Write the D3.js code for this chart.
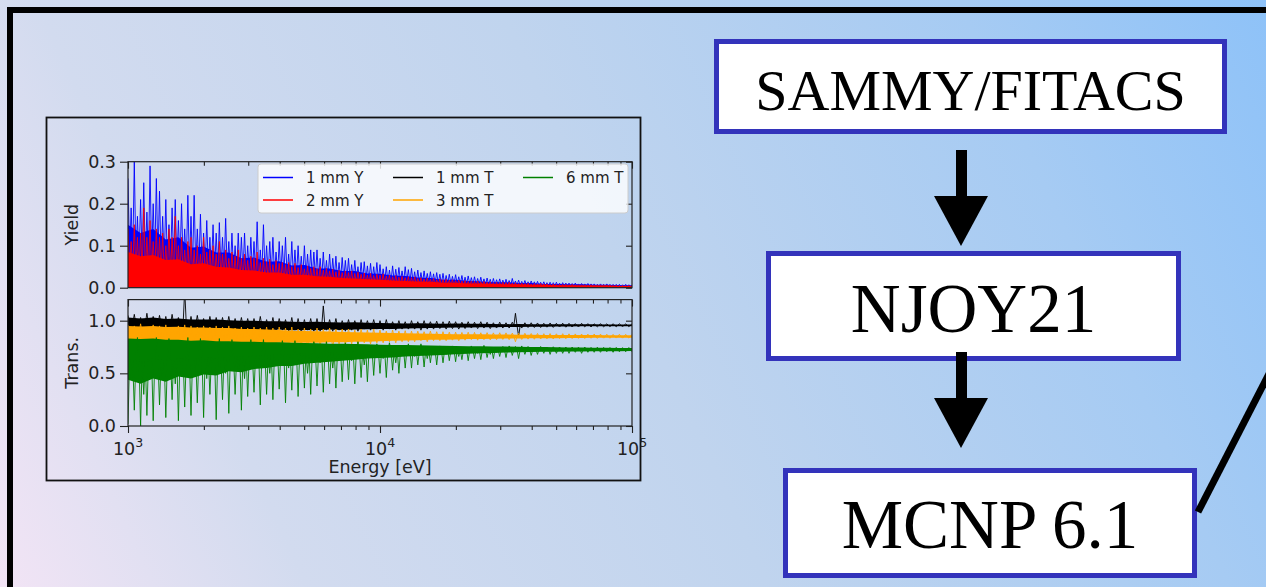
<!DOCTYPE html>
<html>
<head>
<meta charset="utf-8">
<script src="https://cdn.jsdelivr.net/npm/d3@7"></script>
<style>
html, body { margin: 0; padding: 0; overflow: hidden; }
svg { display: block; }
</style>
</head>
<body>
<script>
var width = 1266, height = 587;

// sample grids, log10(E / eV)
var coarseLogE = d3.range(41).map(function(i) { return 3 + i * 0.05; });
var fineLogE = d3.range(161).map(function(i) { return 3 + i * 0.0125; });

var xMajor = [1e3, 1e4, 1e5];
var xMinor = [2e3, 3e3, 4e3, 5e3, 6e3, 7e3, 8e3, 9e3, 2e4, 3e4, 4e4, 5e4, 6e4, 7e4, 8e4, 9e4];
var yieldTicks = [0, 0.1, 0.2, 0.3];
var transTicks = [0, 0.5, 1.0];

// ---- yield, 1 mm : dense core top (coarse) and resonance extremes (fine)
var y1Hi = [0.15,0.13,0.14,0.115,0.12,0.095,0.098,0.084,0.084,0.07,
            0.072,0.062,0.063,0.053,0.054,0.046,0.046,0.04,0.04,0.034,
            0.033,0.029,0.028,0.024,0.023,0.019,0.019,0.016,0.015,0.013,
            0.013,0.011,0.011,0.009,0.009,0.008,0.008,0.007,0.007,0.006,0.006];
var y1Spk = [0.26,0.19,0.30,0.17,0.21,0.25,0.18,0.29,0.2,0.26,
             0.23,0.17,0.21,0.15,0.19,0.21,0.16,0.2,0.14,0.22,
             0.17,0.22,0.14,0.175,0.13,0.16,0.12,0.15,0.13,0.155,
             0.12,0.165,0.11,0.13,0.1,0.13,0.12,0.13,0.1,0.12,
             0.11,0.157,0.09,0.15,0.1,0.11,0.12,0.085,0.11,0.1,
             0.12,0.08,0.11,0.09,0.1,0.075,0.1,0.08,0.09,0.085,
             0.09,0.07,0.085,0.065,0.08,0.07,0.075,0.06,0.072,0.065,
             0.07,0.055,0.065,0.05,0.06,0.062,0.052,0.058,0.05,0.06,
             0.055,0.045,0.05,0.042,0.052,0.044,0.048,0.04,0.05,0.043,
             0.046,0.038,0.042,0.036,0.04,0.034,0.038,0.033,0.036,0.032,
             0.034,0.029,0.032,0.027,0.031,0.026,0.029,0.025,0.028,0.024,
             0.026,0.022,0.025,0.021,0.023,0.02,0.022,0.019,0.021,0.018,
             0.02,0.017,0.022,0.016,0.018,0.015,0.017,0.014,0.016,0.014,
             0.015,0.013,0.014,0.012,0.013,0.012,0.013,0.011,0.012,0.011,
             0.011,0.01,0.011,0.009,0.01,0.009,0.01,0.009,0.009,0.008,
             0.009,0.008,0.009,0.008,0.008,0.008,0.008,0.007,0.008,0.007,
             0.007];

// ---- yield, 2 mm
var y2Hi = [0.085,0.075,0.078,0.066,0.068,0.056,0.058,0.05,0.048,0.042,
            0.041,0.036,0.036,0.031,0.031,0.027,0.026,0.023,0.022,0.02,
            0.019,0.017,0.016,0.015,0.014,0.012,0.012,0.01,0.01,0.009,
            0.008,0.008,0.007,0.007,0.006,0.006,0.005,0.005,0.005,0.004,0.004];
var y2Spk = [0.14,0.11,0.15,0.12,0.13,0.19,0.12,0.16,0.11,0.14,
             0.12,0.13,0.1,0.14,0.12,0.17,0.1,0.12,0.09,0.11,
             0.12,0.09,0.1,0.08,0.12,0.085,0.09,0.1,0.08,0.11,
             0.08,0.09,0.07,0.085,0.075,0.09,0.07,0.08,0.065,0.075,
             0.07,0.085,0.06,0.07,0.062,0.068,0.055,0.065,0.058,0.06,
             0.055,0.06,0.05,0.058,0.048,0.055,0.045,0.052,0.046,0.05,
             0.045,0.05,0.042,0.046,0.04,0.044,0.038,0.042,0.036,0.04,
             0.036,0.04,0.034,0.037,0.032,0.035,0.03,0.034,0.029,0.032,
             0.03,0.033,0.028,0.03,0.026,0.029,0.025,0.027,0.024,0.026,
             0.024,0.026,0.022,0.024,0.021,0.023,0.02,0.022,0.019,0.021,
             0.019,0.02,0.018,0.019,0.017,0.018,0.016,0.017,0.015,0.016,
             0.015,0.016,0.014,0.015,0.013,0.014,0.012,0.013,0.012,0.013,
             0.012,0.013,0.011,0.012,0.01,0.011,0.01,0.011,0.009,0.01,
             0.009,0.01,0.009,0.009,0.008,0.009,0.008,0.008,0.008,0.008,
             0.007,0.008,0.007,0.007,0.007,0.007,0.006,0.007,0.006,0.006,
             0.006,0.006,0.006,0.006,0.005,0.006,0.005,0.005,0.005,0.005,
             0.005];

// ---- transmission, 1 mm
var t1Hi = [1.03,1.02,1.03,1.015,1.02,1.01,1.01,1.01,1.005,1.0,
            1.0,0.995,0.995,0.99,0.988,0.99,0.985,0.982,0.984,0.98,
            0.978,0.975,0.974,0.975,0.972,0.971,0.972,0.97,0.97,0.968,
            0.967,0.968,0.967,0.966,0.966,0.965,0.965,0.965,0.964,0.964,0.964];
var t1Lo = [0.925,0.92,0.925,0.915,0.92,0.915,0.92,0.91,0.915,0.91,
            0.915,0.91,0.915,0.91,0.912,0.91,0.915,0.912,0.915,0.918,
            0.92,0.922,0.925,0.928,0.93,0.932,0.934,0.936,0.937,0.938,
            0.94,0.941,0.942,0.943,0.944,0.945,0.946,0.946,0.947,0.947,0.948];
var t1Spk = [1.05,0.9,1.06,0.92,1.03,0.88,1.07,0.91,1.04,0.89,
             1.05,0.9,1.04,0.92,1.06,0.88,1.03,0.91,1.3,0.9,
             1.04,0.89,1.05,0.91,1.02,0.88,1.04,0.9,1.03,0.89,
             1.03,0.9,1.04,0.89,1.02,0.91,1.03,0.88,1.02,0.9,
             1.02,0.9,1.04,0.91,1.01,0.89,1.03,0.9,1.02,0.91,
             1.01,0.9,1.03,0.91,1.02,0.89,1.01,0.91,1.02,0.9,
             1.02,0.9,1.14,0.91,1.01,0.9,1.02,0.91,1.0,0.9,
             1.01,0.91,1.0,0.9,1.01,0.92,1.0,0.91,1.01,0.92,
             1.0,0.91,1.01,0.92,0.99,0.91,1.0,0.92,0.99,0.92,
             1.0,0.92,0.99,0.91,1.0,0.92,0.99,0.92,0.995,0.925,
             0.99,0.92,0.995,0.925,0.99,0.92,0.985,0.925,0.99,0.93,
             0.985,0.925,0.99,0.93,0.985,0.925,0.98,0.93,0.985,0.93,
             0.98,0.93,0.985,1.07,0.85,0.93,0.98,0.935,0.98,0.935,
             0.978,0.935,0.975,0.938,0.978,0.936,0.975,0.94,0.976,0.938,
             0.975,0.94,0.972,0.94,0.975,0.942,0.972,0.94,0.97,0.942,
             0.972,0.942,0.97,0.944,0.971,0.943,0.97,0.945,0.969,0.944,
             0.97];

// ---- transmission, 3 mm
var t3Hi = [0.95,0.945,0.95,0.94,0.942,0.935,0.935,0.93,0.93,0.922,
            0.92,0.915,0.912,0.905,0.903,0.9,0.897,0.893,0.89,0.887,
            0.885,0.882,0.88,0.878,0.876,0.874,0.872,0.871,0.87,0.869,
            0.868,0.867,0.866,0.865,0.865,0.864,0.863,0.863,0.862,0.862,0.861];
var t3Lo = [0.82,0.81,0.815,0.8,0.805,0.79,0.8,0.79,0.79,0.785,
            0.79,0.785,0.79,0.79,0.79,0.79,0.795,0.795,0.8,0.8,
            0.805,0.81,0.812,0.815,0.818,0.82,0.822,0.825,0.826,0.828,
            0.83,0.831,0.832,0.833,0.834,0.835,0.836,0.837,0.838,0.838,0.839];
var t3Spk = [0.96,0.72,0.95,0.78,0.97,0.7,0.94,0.75,0.96,0.73,
             0.95,0.76,0.96,0.71,0.94,0.77,0.95,0.72,0.96,0.75,
             0.95,0.73,0.94,0.77,0.95,0.72,0.94,0.76,0.95,0.74,
             0.94,0.75,0.95,0.72,0.93,0.77,0.94,0.74,0.93,0.76,
             0.94,0.74,0.93,0.77,0.94,0.73,0.93,0.76,0.94,0.75,
             0.93,0.76,0.94,0.74,0.92,0.77,0.93,0.75,0.92,0.77,
             0.93,0.76,0.92,0.78,0.93,0.75,0.92,0.78,0.92,0.77,
             0.92,0.78,0.91,0.77,0.92,0.79,0.91,0.78,0.92,0.79,
             0.91,0.79,0.9,0.8,0.91,0.79,0.9,0.8,0.905,0.8,
             0.9,0.8,0.9,0.81,0.895,0.8,0.9,0.81,0.895,0.81,
             0.895,0.81,0.89,0.815,0.89,0.81,0.888,0.815,0.89,0.82,
             0.888,0.815,0.885,0.82,0.886,0.818,0.884,0.82,0.885,0.822,
             0.884,0.82,0.882,0.8,0.88,0.822,0.88,0.825,0.878,0.824,
             0.878,0.826,0.876,0.828,0.877,0.826,0.875,0.83,0.876,0.829,
             0.875,0.83,0.874,0.832,0.873,0.831,0.872,0.833,0.873,0.832,
             0.872,0.834,0.871,0.833,0.87,0.835,0.871,0.834,0.87,0.836,
             0.87];

// ---- transmission, 6 mm
var t6Hi = [0.83,0.825,0.83,0.82,0.82,0.81,0.815,0.805,0.805,0.8,
            0.8,0.795,0.795,0.79,0.788,0.785,0.782,0.78,0.778,0.775,
            0.772,0.77,0.768,0.766,0.764,0.762,0.76,0.758,0.756,0.755,
            0.754,0.752,0.75,0.749,0.748,0.746,0.745,0.744,0.742,0.741,0.74];
var t6Lo = [0.44,0.4,0.45,0.42,0.47,0.45,0.49,0.48,0.52,0.51,
            0.54,0.55,0.57,0.57,0.59,0.6,0.61,0.62,0.63,0.64,
            0.645,0.65,0.66,0.665,0.67,0.675,0.68,0.685,0.69,0.694,
            0.697,0.7,0.702,0.704,0.706,0.707,0.708,0.709,0.71,0.71,0.712];
var t6Spk = [0.02,0.45,0.15,0.84,0.0,0.3,0.1,0.6,0.05,0.84,
             0.2,0.5,0.08,0.83,0.25,0.4,0.05,0.65,0.18,0.84,
             0.1,0.55,0.22,0.83,0.08,0.45,0.3,0.6,0.06,0.83,
             0.25,0.5,0.12,0.82,0.3,0.55,0.15,0.45,0.28,0.82,
             0.32,0.6,0.2,0.82,0.3,0.5,0.25,0.62,0.35,0.81,
             0.22,0.55,0.34,0.81,0.28,0.6,0.36,0.5,0.3,0.8,
             0.38,0.6,0.32,0.8,0.4,0.55,0.36,0.64,0.42,0.79,
             0.44,0.62,0.4,0.8,0.46,0.58,0.42,0.66,0.48,0.78,
             0.5,0.64,0.46,0.79,0.53,0.6,0.5,0.67,0.55,0.78,
             0.55,0.66,0.58,0.78,0.56,0.64,0.6,0.68,0.58,0.76,
             0.6,0.68,0.62,0.76,0.61,0.66,0.63,0.7,0.62,0.76,
             0.64,0.69,0.63,0.765,0.65,0.68,0.64,0.7,0.66,0.755,
             0.65,0.76,0.67,0.755,0.64,0.76,0.68,0.755,0.67,0.75,
             0.68,0.755,0.69,0.75,0.68,0.752,0.69,0.75,0.69,0.75,
             0.69,0.75,0.7,0.748,0.69,0.75,0.7,0.746,0.7,0.748,
             0.7,0.746,0.705,0.745,0.7,0.746,0.705,0.744,0.705,0.745,
             0.705];

var legendLabels = ["1 mm Y", "2 mm Y", "1 mm T", "3 mm T", "6 mm T"];
var flowLabels = ["SAMMY/FITACS", "NJOY21", "MCNP 6.1"];

var yieldSeries = [
	{name: legendLabels[0], color: "#0000ff", hi: y1Hi, lo: null, spk: y1Spk},
	{name: legendLabels[1], color: "#ff0000", hi: y2Hi, lo: null, spk: y2Spk}
];
var transSeries = [
	{name: legendLabels[2], color: "#000000", hi: t1Hi, lo: t1Lo, spk: t1Spk},
	{name: legendLabels[3], color: "#ffa500", hi: t3Hi, lo: t3Lo, spk: t3Spk},
	{name: legendLabels[4], color: "#008000", hi: t6Hi, lo: t6Lo, spk: t6Spk}
];

var svg = d3.select("body").append("svg")
	.attr("width", width)
	.attr("height", height);
var defs = svg.append("defs");

// slide background
var grad = defs.append("linearGradient").attr("id", "bg")
	.attr("gradientUnits", "userSpaceOnUse")
	.attr("x1", 0).attr("y1", height).attr("x2", width).attr("y2", 0);
[[0, "#f2e4f5"], [0.1, "#e2e0f2"], [0.2, "#d2dbef"], [0.5, "#c0d4ee"], [0.8, "#a6cbf3"], [1, "#8ec2f8"]]
	.forEach(function(s) {
		grad.append("stop").attr("offset", s[0]).attr("stop-color", s[1]);
	});
svg.append("rect").attr("width", width).attr("height", height).attr("fill", "url(#bg)");

svg.append("path")
	.attr("d", "M10," + (height + 10) + "V10H" + (width + 10))
	.attr("fill", "none").attr("stroke", "#000").attr("stroke-width", 6);

// inset figure frame
svg.append("rect")
	.attr("x", 46.5).attr("y", 117.5).attr("width", 594).attr("height", 363)
	.attr("fill", "none").attr("stroke", "#111").attr("stroke-width", 1.8);

var plotL = 128, plotR = 632;
var x = d3.scaleLog().domain([1e3, 1e5]).range([plotL, plotR]);
var yY = d3.scaleLinear().domain([0, 0.3]).range([287.7, 161.7]);
var yT = d3.scaleLinear().domain([0, 1.2]).range([426, 299.6]);

function interp(arr, le) {
	var t = (le - 3) / 0.05;
	var i = Math.min(arr.length - 2, Math.max(0, Math.floor(t)));
	var f = t - i;
	return arr[i] * (1 - f) + arr[i + 1] * f;
}

function drawPanel(id, y, list) {
	defs.append("clipPath").attr("id", id)
		.append("rect")
		.attr("x", plotL).attr("y", y.range()[1])
		.attr("width", plotR - plotL).attr("height", y.range()[0] - y.range()[1]);
	var g = svg.append("g").attr("clip-path", "url(#" + id + ")");

	list.forEach(function(s) {
		var band = coarseLogE.map(function(le, i) {
			return {le: le, hi: s.hi[i], lo: s.lo ? s.lo[i] : 0};
		});
		g.append("path")
			.datum(band)
			.attr("fill", s.color)
			.attr("d", d3.area()
				.x(function(d) { return x(Math.pow(10, d.le)); })
				.y0(function(d) { return y(d.lo); })
				.y1(function(d) { return y(d.hi); }));

		// resonance structure: saw-tooth between the core and each extreme
		function base(le) {
			return s.lo ? (interp(s.hi, le) + interp(s.lo, le)) / 2 : interp(s.hi, le) * 0.5;
		}
		var pts = [];
		fineLogE.forEach(function(le, i) {
			pts.push([x(Math.pow(10, le)), y(s.spk[i])]);
			if (i < fineLogE.length - 1) {
				var lm = le + 0.00625;
				pts.push([x(Math.pow(10, lm)), y(base(lm))]);
			}
		});
		g.append("path")
			.datum(pts)
			.attr("fill", "none")
			.attr("stroke", s.color)
			.attr("stroke-width", 0.9)
			.attr("d", d3.line());
	});
}

drawPanel("clipY", yY, yieldSeries);
drawPanel("clipT", yT, transSeries);

var axisFont = "'DejaVu Sans', sans-serif";
var ink = "#222";

function styleAxis(sel) {
	sel.select(".domain").remove();
	sel.selectAll("line").attr("stroke", ink).attr("stroke-width", 1.1);
	sel.selectAll("text").attr("fill", ink).style("font-family", axisFont).style("font-size", "17.5px");
}

function frameAxes(y, ticks, showXLabels) {
	var top = y.range()[1], bot = y.range()[0];
	svg.append("g").attr("transform", "translate(" + plotL + ",0)")
		.call(d3.axisLeft(y).tickValues(ticks).tickSize(8).tickPadding(4).tickFormat(d3.format(".1f")))
		.call(styleAxis);
	svg.append("g").attr("transform", "translate(" + plotR + ",0)")
		.call(d3.axisRight(y).tickValues(ticks).tickSize(-6).tickFormat(""))
		.call(styleAxis);
	svg.append("g").attr("transform", "translate(0," + top + ")")
		.call(d3.axisTop(x).tickValues(xMajor).tickSize(-7).tickFormat(""))
		.call(styleAxis);
	svg.append("g").attr("transform", "translate(0," + top + ")")
		.call(d3.axisTop(x).tickValues(xMinor).tickSize(-4).tickFormat(""))
		.call(styleAxis);
	if (showXLabels) {
		svg.append("g").attr("transform", "translate(0," + bot + ")")
			.call(d3.axisBottom(x).tickValues(xMajor).tickSize(7).tickFormat(""))
			.call(styleAxis);
		svg.append("g").attr("transform", "translate(0," + bot + ")")
			.call(d3.axisBottom(x).tickValues(xMinor).tickSize(4).tickFormat(""))
			.call(styleAxis);
	}
	svg.append("rect")
		.attr("x", plotL).attr("y", top)
		.attr("width", plotR - plotL).attr("height", bot - top)
		.attr("fill", "none").attr("stroke", ink).attr("stroke-width", 1.2);
}

frameAxes(yY, yieldTicks, false);
frameAxes(yT, transTicks, true);

// x tick labels 10^n
xMajor.forEach(function(v) {
	var t = svg.append("text")
		.attr("x", x(v)).attr("y", 455)
		.attr("text-anchor", "middle")
		.attr("fill", ink)
		.style("font-family", axisFont).style("font-size", "17.5px");
	t.append("tspan").text("10");
	t.append("tspan").attr("dy", -8).style("font-size", "12.5px").text(Math.round(Math.log10(v)));
});

svg.append("text")
	.attr("x", (plotL + plotR) / 2).attr("y", 473)
	.attr("text-anchor", "middle").attr("fill", ink)
	.style("font-family", axisFont).style("font-size", "17.5px")
	.text("Energy [eV]");

[[yY, "Yield"], [yT, "Trans."]].forEach(function(p) {
	var cy = (p[0].range()[0] + p[0].range()[1]) / 2;
	svg.append("text")
		.attr("transform", "translate(78," + cy + ") rotate(-90)")
		.attr("text-anchor", "middle").attr("fill", ink)
		.style("font-family", axisFont).style("font-size", "17.5px")
		.text(p[1]);
});

// legend, 3 columns
var legend = svg.append("g");
legend.append("rect")
	.attr("x", 258).attr("y", 164).attr("width", 370).attr("height", 49)
	.attr("rx", 3)
	.attr("fill", "#fff").attr("fill-opacity", 0.8)
	.attr("stroke", "#ccc").attr("stroke-width", 1);
var legendItems = yieldSeries.concat(transSeries);
var colX = [263, 393, 523];
legendItems.forEach(function(s, i) {
	var col = Math.floor(i / 2), row = i % 2;
	var ly = 177.5 + row * 22.5;
	legend.append("line")
		.attr("x1", colX[col]).attr("x2", colX[col] + 30)
		.attr("y1", ly).attr("y2", ly)
		.attr("stroke", s.color).attr("stroke-width", 1.5);
	legend.append("text")
		.attr("x", colX[col] + 43).attr("y", ly + 5.5)
		.attr("fill", ink)
		.style("font-family", axisFont).style("font-size", "15px")
		.text(s.name);
});

// flow chart
var boxes = [
	{x: 716.5, y: 41.5, w: 508, h: 90, fs: 58, ty: 110},
	{x: 768.5, y: 253.5, w: 410, h: 105, fs: 69, ty: 332},
	{x: 785.5, y: 470.5, w: 409, h: 105, fs: 69, ty: 548}
];
boxes.forEach(function(b, i) {
	svg.append("rect")
		.attr("x", b.x).attr("y", b.y).attr("width", b.w).attr("height", b.h)
		.attr("fill", "#fff").attr("stroke", "#3333bb").attr("stroke-width", 5);
	svg.append("text")
		.attr("x", b.x + b.w / 2).attr("y", b.ty)
		.attr("text-anchor", "middle").attr("fill", "#000")
		.style("font-family", "'Liberation Serif', 'Times New Roman', serif")
		.style("font-size", b.fs + "px")
		.text(flowLabels[i]);
});

[[150, 196, 246], [352, 398, 448]].forEach(function(a) {
	svg.append("rect")
		.attr("x", 956).attr("y", a[0]).attr("width", 11).attr("height", a[1] - a[0] + 1)
		.attr("fill", "#000");
	svg.append("path")
		.attr("d", "M934," + a[1] + "L988," + a[1] + "L961," + a[2] + "Z")
		.attr("fill", "#000");
});

svg.append("line")
	.attr("x1", 1198).attr("y1", 512).attr("x2", 1272).attr("y2", 368)
	.attr("stroke", "#000").attr("stroke-width", 7);
</script>
</body>
</html>
